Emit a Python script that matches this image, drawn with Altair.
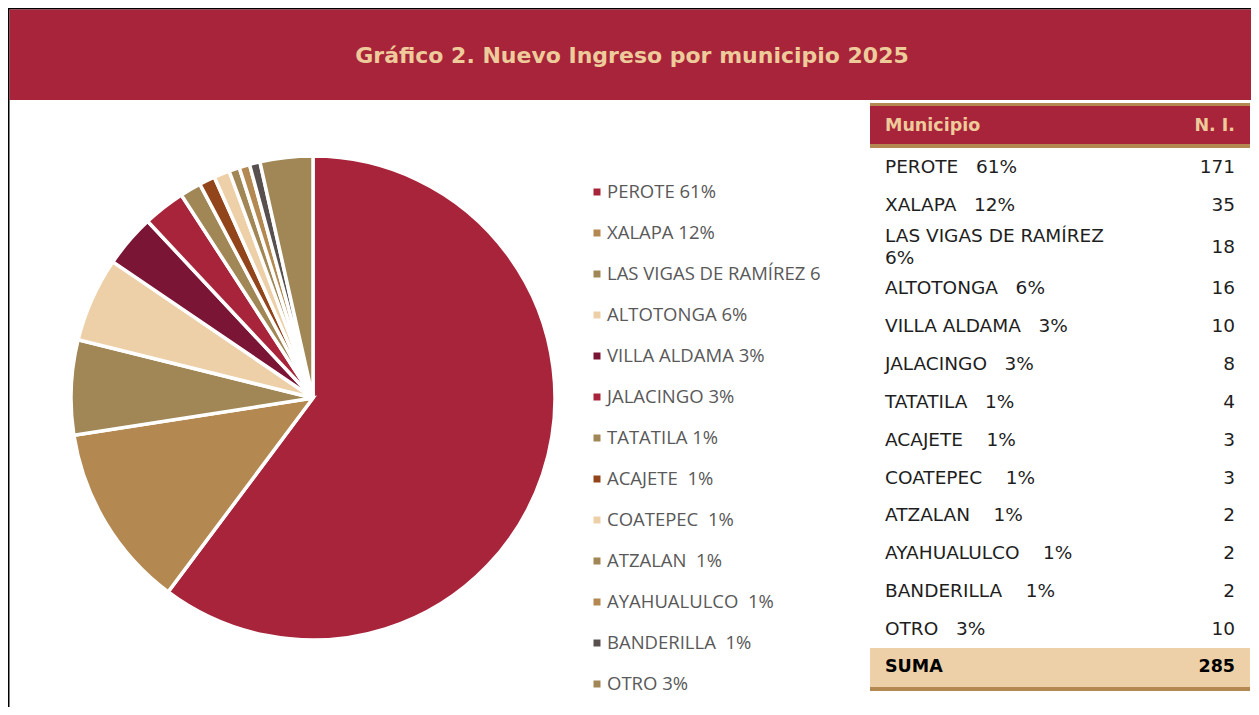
import altair as alt
import pandas as pd

# ---- data ----
municipios = ["PEROTE", "XALAPA", "LAS VIGAS DE RAMÍREZ", "ALTOTONGA", "VILLA ALDAMA",
              "JALACINGO", "TATATILA", "ACAJETE", "COATEPEC", "ATZALAN",
              "AYAHUALULCO", "BANDERILLA", "OTRO"]
valores = [171, 35, 18, 16, 10, 8, 4, 3, 3, 2, 2, 2, 10]
porcentajes = [61, 12, 6, 6, 3, 3, 1, 1, 1, 1, 1, 1, 3]
legend_labels = ["PEROTE 61%", "XALAPA 12%", "LAS VIGAS DE RAMÍREZ 6", "ALTOTONGA 6%",
                 "VILLA ALDAMA 3%", "JALACINGO 3%", "TATATILA 1%", "ACAJETE\u00a0 1%",
                 "COATEPEC\u00a0 1%", "ATZALAN\u00a0 1%", "AYAHUALULCO\u00a0 1%",
                 "BANDERILLA\u00a0 1%", "OTRO 3%"]
table_labels = ["PEROTE\u00a0\u00a0 61%", "XALAPA\u00a0\u00a0 12%", "LAS VIGAS DE RAMÍREZ\n6%",
                "ALTOTONGA\u00a0\u00a0 6%", "VILLA ALDAMA\u00a0\u00a0 3%", "JALACINGO\u00a0\u00a0 3%",
                "TATATILA\u00a0\u00a0 1%", "ACAJETE\u00a0\u00a0\u00a0 1%", "COATEPEC\u00a0\u00a0\u00a0 1%",
                "ATZALAN\u00a0\u00a0\u00a0 1%", "AYAHUALULCO\u00a0\u00a0\u00a0 1%",
                "BANDERILLA\u00a0\u00a0\u00a0 1%", "OTRO\u00a0\u00a0 3%"]
colores = ["#A8243B", "#B38851", "#A08755", "#EDD0A8", "#7B1535", "#A8243B", "#A08755",
           "#92441A", "#EDD0A8", "#A08755", "#B38851", "#58504F", "#A08755"]
titulo = "Gráfico 2. Nuevo Ingreso por municipio 2025"
total_texto = "285"

RED = "#A8243B"
GOLD = "#B38851"
BEIGE = "#EDD0A8"
CREAM = "#EECB9A"
TFONT = "DejaVu Sans"

df = pd.DataFrame({
    "municipio": municipios,
    "valor": valores,
    "pct": porcentajes,
    "orden": list(range(len(municipios))),
    "leg": legend_labels,
    "tab": table_labels,
})
one = pd.DataFrame({"k": [0]})

W, H = 1243, 699

color_scale = alt.Scale(domain=municipios, range=colores)

base = alt.Chart(df)
dummy = alt.Chart(one)

# frame and header
frame_left = dummy.mark_rect(color="black").encode(
    x=alt.value(0), x2=alt.value(1.5), y=alt.value(0), y2=alt.value(H))
frame_top = dummy.mark_rect(color="black").encode(
    x=alt.value(0), x2=alt.value(W), y=alt.value(0), y2=alt.value(1.5))
header = dummy.mark_rect(color=RED).encode(
    x=alt.value(1.5), x2=alt.value(W), y=alt.value(1.5), y2=alt.value(92))
title = dummy.mark_text(font=TFONT, fontSize=22, fontWeight="bold", color=CREAM,
                        align="center", baseline="middle").encode(
    x=alt.value(624), y=alt.value(47.5), text=alt.value(titulo))

# pie
pie = base.mark_arc(radius=242, stroke="white", strokeWidth=3.5).encode(
    theta=alt.Theta("valor:Q", stack=True),
    order=alt.Order("orden:Q"),
    color=alt.Color("municipio:N", scale=color_scale, legend=None),
    x=alt.value(305), y=alt.value(390),
)

# legend
leg_y = alt.Y("municipio:N", scale=alt.Scale(type="point", domain=municipios,
                                              range=[184, 676], padding=0), axis=None)
leg_sq = base.mark_square(size=49, opacity=1).encode(
    x=alt.value(589), y=leg_y,
    color=alt.Color("municipio:N", scale=color_scale, legend=None))
leg_txt = base.mark_text(font="Open Sans", fontSize=18.5, color="#595959",
                         align="left", baseline="middle").encode(
    x=alt.value(599), y=leg_y, text="leg:N")

# table
tx0, tx1 = 862, 1242
t_gold_top = dummy.mark_rect(color=GOLD).encode(
    x=alt.value(tx0), x2=alt.value(tx1), y=alt.value(95), y2=alt.value(98))
t_head = dummy.mark_rect(color=RED).encode(
    x=alt.value(tx0), x2=alt.value(tx1), y=alt.value(98), y2=alt.value(136))
t_gold_bot = dummy.mark_rect(color=GOLD).encode(
    x=alt.value(tx0), x2=alt.value(tx1), y=alt.value(136), y2=alt.value(140))
h1 = dummy.mark_text(font=TFONT, fontSize=17.5, fontWeight="bold", color=CREAM,
                     align="left", baseline="middle").encode(
    x=alt.value(877), y=alt.value(118), text=alt.value("Municipio"))
h2 = dummy.mark_text(font=TFONT, fontSize=17.5, fontWeight="bold", color=CREAM,
                     align="right", baseline="middle").encode(
    x=alt.value(1227), y=alt.value(118), text=alt.value("N. I."))

# rows: a two-line row is a little taller than a one-line row
tbase = base.transform_calculate(
    lines="length(split(datum.tab, '\\n'))"
).transform_calculate(
    h="1 + 0.2 * (datum.lines - 1)"
).transform_window(
    cum="sum(h)", frame=[None, 0], sort=[alt.SortField("orden")]
).transform_calculate(
    c="datum.cum - datum.h / 2",
    ct="datum.cum - datum.h / 2 - (datum.lines - 1) * 0.29",
)
row_scale = alt.Scale(domain=[0.5, 12.7], range=[159, 621])
tab_lbl = tbase.mark_text(font=TFONT, fontSize=18.5, color="#1E1E1E", align="left",
                          baseline="middle", lineBreak="\n", lineHeight=22).encode(
    x=alt.value(877), y=alt.Y("ct:Q", scale=row_scale, axis=None), text="tab:N")
tab_val = tbase.mark_text(font=TFONT, fontSize=18.5, color="#1E1E1E", align="right",
                          baseline="middle").encode(
    x=alt.value(1227), y=alt.Y("c:Q", scale=row_scale, axis=None), text="valor:Q")

s_bg = dummy.mark_rect(color=BEIGE).encode(
    x=alt.value(tx0), x2=alt.value(tx1), y=alt.value(640), y2=alt.value(679))
s_line = dummy.mark_rect(color=GOLD).encode(
    x=alt.value(tx0), x2=alt.value(tx1), y=alt.value(679), y2=alt.value(683))
s_t1 = dummy.mark_text(font=TFONT, fontSize=17.5, fontWeight="bold", color="black",
                       align="left", baseline="middle").encode(
    x=alt.value(877), y=alt.value(659), text=alt.value("SUMA"))
s_t2 = dummy.mark_text(font=TFONT, fontSize=17.5, fontWeight="bold", color="black",
                       align="right", baseline="middle").encode(
    x=alt.value(1227), y=alt.value(659), text=alt.value(total_texto))

chart = alt.layer(
    frame_left, frame_top, header, title, pie, leg_sq, leg_txt,
    t_gold_top, t_head, t_gold_bot, h1, h2, tab_lbl, tab_val,
    s_bg, s_line, s_t1, s_t2,
).resolve_scale(y="independent", x="independent").properties(
    width=W, height=H, padding=0, autosize=alt.AutoSizeParams(type="none"),
    background="white",
).configure_view(stroke=None)

chart.save("out.html", embed_options={"renderer": "svg", "actions": False})
